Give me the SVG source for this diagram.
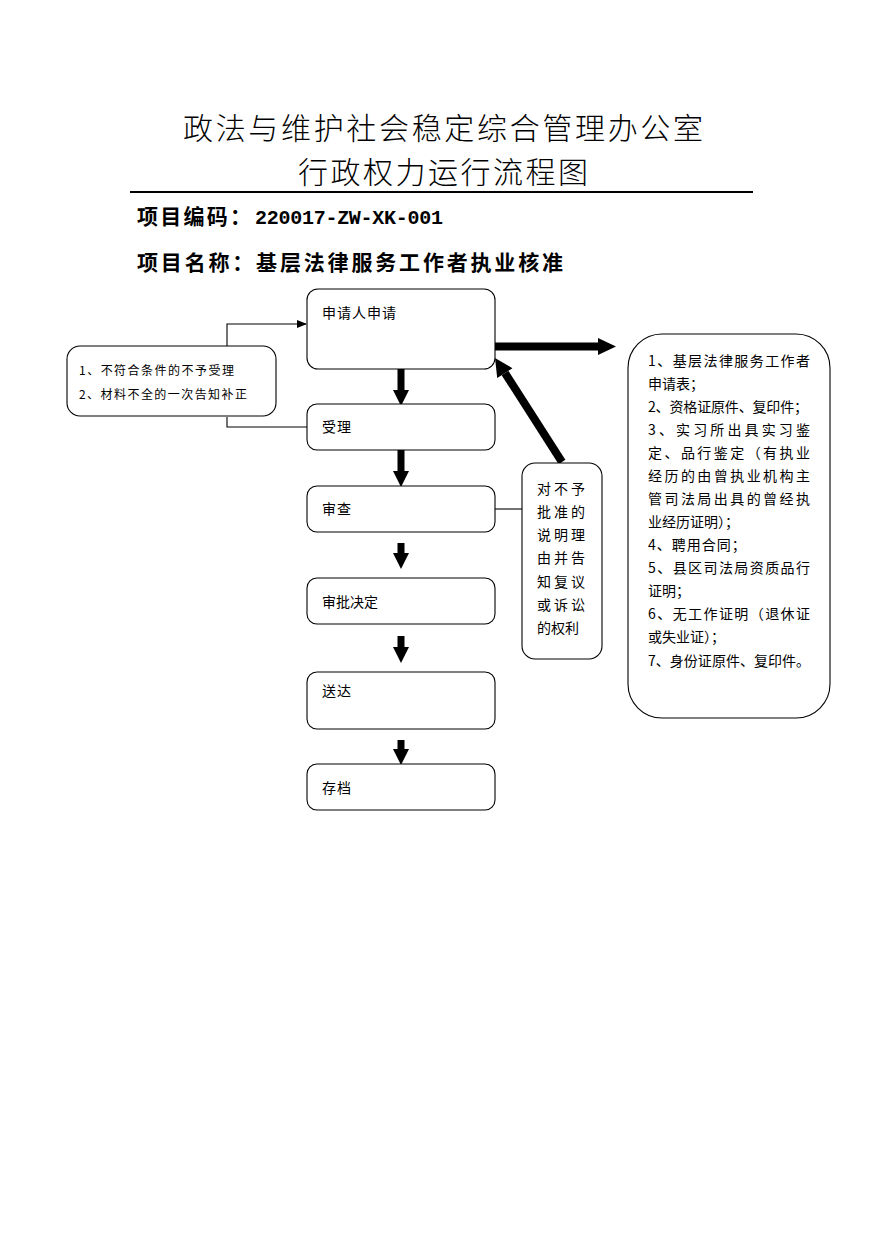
<svg xmlns="http://www.w3.org/2000/svg" width="885" height="1252" viewBox="0 0 885 1252">
<defs>
<marker id="ah" markerWidth="10" markerHeight="8" refX="9" refY="4" orient="auto" markerUnits="userSpaceOnUse">
<path d="M0,0 L10,4 L0,8 Z" fill="#000"/>
</marker>
<style>
.box{fill:#fff;stroke:#000;stroke-width:1.1}
.t{font-family:"Noto Sans CJK SC","Noto Sans CJK JP",sans-serif;font-size:14px;fill:#000}
.s{font-size:12px}
.title{font-family:"Noto Sans CJK SC",sans-serif;font-size:30px;font-weight:300;fill:#000}
.h{font-family:"Noto Sans CJK SC",sans-serif;font-size:21px;font-weight:bold;fill:#000}
.hm{font-family:"Liberation Mono",monospace;font-size:20px;font-weight:bold;fill:#000}
.ln{fill:none;stroke:#000;stroke-width:1.1}
.fat{fill:#000;stroke:none}
</style>
</defs>
<rect width="885" height="1252" fill="#fff"/>

<g id="header">
<text class="title" x="183" y="139" textLength="520" lengthAdjust="spacing">政法与维护社会稳定综合管理办公室</text>
<text class="title" x="298" y="183" textLength="290" lengthAdjust="spacing">行政权力运行流程图</text>
<line x1="130" y1="192" x2="753" y2="192" stroke="#000" stroke-width="2"/>
<text class="h" x="137" y="224" textLength="114" lengthAdjust="spacing">项目编码：</text>
<text class="hm" x="255" y="224" textLength="188" lengthAdjust="spacing">220017-ZW-XK-001</text>
<text class="h" x="137" y="270" textLength="426" lengthAdjust="spacing">项目名称：基层法律服务工作者执业核准</text>
</g>

<g id="connectors">
<polyline class="ln" points="227,346 227,324 306,324" marker-end="url(#ah)"/>
<polyline class="ln" points="227,417 227,427 307,427"/>
<line class="ln" x1="495" y1="509" x2="522" y2="509"/>
<!-- thick down arrows -->
<polygon class="fat" points="397.5,369 404.5,369 404.5,390 409,390 401,406 393,390 397.5,390"/>
<polygon class="fat" points="397.5,450 404.5,450 404.5,471 409,471 401,487 393,471 397.5,471"/>
<polygon class="fat" points="397.5,543 404.5,543 404.5,553 409,553 401,569 393,553 397.5,553"/>
<polygon class="fat" points="397.5,636 404.5,636 404.5,647 409,647 401,663 393,647 397.5,647"/>
<polygon class="fat" points="397.5,740 404.5,740 404.5,749 409,749 401,765 393,749 397.5,749"/>
<!-- right arrow -->
<polygon class="fat" points="495,342.5 598,342.5 598,338 616,346.5 598,355 598,350.5 495,350.5"/>
<!-- diagonal arrow -->
<line x1="562" y1="462" x2="505" y2="373" stroke="#000" stroke-width="8"/>
<polygon class="fat" points="495,358 512.4,368.2 497.2,378"/>
</g>

<g id="n-apply">
<rect class="box" x="307" y="289" width="188" height="80" rx="11"/>
<text class="t" x="322" y="318" letter-spacing="1">申请人申请</text>
</g>
<g id="n-accept">
<rect class="box" x="307" y="404" width="188" height="46" rx="10"/>
<text class="t" x="322" y="432" letter-spacing="1">受理</text>
</g>
<g id="n-review">
<rect class="box" x="307" y="486" width="188" height="46" rx="10"/>
<text class="t" x="322" y="514" letter-spacing="1">审查</text>
</g>
<g id="n-decide">
<rect class="box" x="307" y="578" width="188" height="46" rx="10"/>
<text class="t" x="322" y="607" letter-spacing="0">审批决定</text>
</g>
<g id="n-deliver">
<rect class="box" x="307" y="672" width="188" height="57" rx="10"/>
<text class="t" x="322" y="696" letter-spacing="1">送达</text>
</g>
<g id="n-archive">
<rect class="box" x="307" y="764" width="188" height="46" rx="10"/>
<text class="t" x="322" y="793" letter-spacing="1">存档</text>
</g>

<g id="n-reject">
<rect class="box" x="67" y="346" width="209" height="70" rx="13"/>
<text class="t s" x="79" y="375" textLength="155" lengthAdjust="spacing">1、不符合条件的不予受理</text>
<text class="t s" x="79" y="399" textLength="168" lengthAdjust="spacing">2、材料不全的一次告知补正</text>
</g>

<g id="n-notice">
<rect class="box" x="522" y="463" width="80" height="196" rx="13"/>
<text class="t" x="537" y="494" letter-spacing="3">对不予</text>
<text class="t" x="537" y="517" letter-spacing="3">批准的</text>
<text class="t" x="537" y="540" letter-spacing="3">说明理</text>
<text class="t" x="537" y="563" letter-spacing="3">由并告</text>
<text class="t" x="537" y="587" letter-spacing="3">知复议</text>
<text class="t" x="537" y="610" letter-spacing="3">或诉讼</text>
<text class="t" x="537" y="633" letter-spacing="0">的权利</text>
</g>

<g id="n-materials">
<rect class="box" x="628" y="334" width="202" height="384" rx="34"/>
<text class="t" x="648" y="366" textLength="162" lengthAdjust="spacing">1、基层法律服务工作者</text>
<text class="t" x="648" y="389">申请表；</text>
<text class="t" x="648" y="412" textLength="160" lengthAdjust="spacing">2、资格证原件、复印件；</text>
<text class="t" x="648" y="435" textLength="162" lengthAdjust="spacing">3、实习所出具实习鉴</text>
<text class="t" x="648" y="458" textLength="162" lengthAdjust="spacing">定、品行鉴定（有执业</text>
<text class="t" x="648" y="481" textLength="162" lengthAdjust="spacing">经历的由曾执业机构主</text>
<text class="t" x="648" y="504" textLength="162" lengthAdjust="spacing">管司法局出具的曾经执</text>
<text class="t" x="648" y="527">业经历证明）；</text>
<text class="t" x="648" y="550" letter-spacing="1">4、聘用合同；</text>
<text class="t" x="648" y="573" textLength="162" lengthAdjust="spacing">5、县区司法局资质品行</text>
<text class="t" x="648" y="596">证明；</text>
<text class="t" x="648" y="619" textLength="162" lengthAdjust="spacing">6、无工作证明（退休证</text>
<text class="t" x="648" y="642">或失业证）；</text>
<text class="t" x="648" y="666" textLength="162" lengthAdjust="spacing">7、身份证原件、复印件。</text>
</g>
</svg>
